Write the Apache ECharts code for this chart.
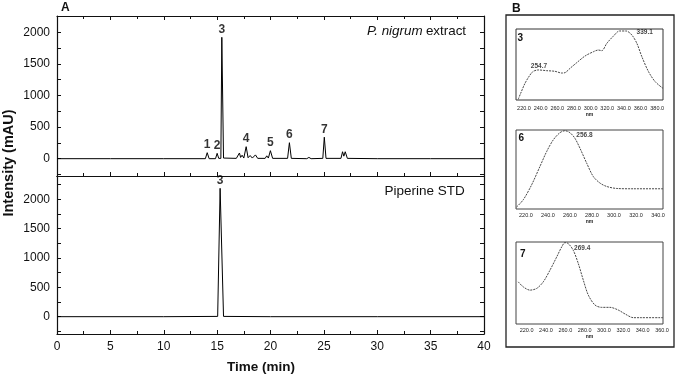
<!DOCTYPE html>
<html>
<head>
<meta charset="utf-8">
<script src="https://cdn.jsdelivr.net/npm/echarts@6/dist/echarts.min.js"></script>
<style>html,body{margin:0;padding:0;background:#fff}#c{width:676px;height:376px}</style>
</head>
<body>
<div id="c"></div>
<script>
// ---- Chromatogram data (time in min, intensity in mAU) ----
const extractTime = [0, 5, 10, 13.9, 14.07, 14.25, 14.85, 15.0, 15.15, 15.35, 15.44, 15.6, 16.8, 17.09, 17.2, 17.34, 17.5, 17.72, 17.9, 18.09, 18.3, 18.59, 18.8, 19.5, 19.65, 19.8, 19.99, 20.2, 21.6, 21.77, 21.95, 23.4, 23.6, 23.8, 24.9, 25.04, 25.2, 26.6, 26.75, 26.87, 27.0, 27.2, 30, 35, 40];
const extractIntensity = [0, 0, 0, 0, 95, 0, 0, 85, 5, 5, 1921, 10, 5, 90, 20, 55, 10, 190, 15, 50, 10, 60, 5, 5, 45, 10, 127, 5, 5, 253, 5, 0, 20, 0, 5, 340, 5, 5, 110, 40, 110, 5, 0, 0, 0];
const stdTime = [0, 10, 15.05, 15.28, 15.6, 20, 30, 40];
const stdIntensity = [0, 0, 5, 2187, 5, 0, 0, 0];

// peak labels
const peakNames = ['1', '2', '3', '4', '5', '6', '7'];
const peakTimes = [14.07, 15.0, 15.44, 17.72, 19.99, 21.77, 25.04];
const peakHeights = [95, 85, 1921, 190, 127, 253, 340];
const stdPeakNames = ['3'];
const stdPeakTimes = [15.28];
const stdPeakHeights = [2187];

// axis ticks / labels
const timeTickLabels = [0, 5, 10, 15, 20, 25, 30, 35, 40];
const intensityTicks = [-250, 0, 250, 500, 750, 1000, 1250, 1500, 1750, 2000, 2250];
const intensityLabels = [0, 500, 1000, 1500, 2000];

// ---- UV spectra (nm, relative absorbance) ----
const spec3Nm = [213.1, 216, 221.2, 227.2, 231.2, 237.2, 247.3, 257.3, 265.3, 269.3, 275.3, 283.4, 293.4, 303.4, 309.4, 313.5, 319.5, 327.5, 334.7, 342.7, 349.6, 355.6, 361.6, 369.6, 377.6, 386.9];
const spec3Abs = [1, 9.4, 23.5, 35.2, 40.4, 42.3, 41.3, 40.4, 38, 38.5, 44.6, 52.6, 62, 68, 70.4, 69.5, 79.8, 90.1, 97.2, 97.2, 91.5, 79.8, 61, 39.9, 25.8, 16.5];
const spec3Ticks = [220, 240, 260, 280, 300, 320, 340, 360, 380];
const spec3PeakNames = ['254.7', '339.1'];
const spec3PeakAt = [[238, 47], [365, 95]];

const spec6Nm = [211.5, 217.6, 225.2, 232.7, 238.8, 244.8, 250.9, 255.5, 260, 264.5, 269.1, 275.2, 281.2, 287.3, 293.4, 302.5, 317.6, 344.5];
const spec6Abs = [2.5, 11.7, 30.6, 53.7, 72.6, 87.4, 96.6, 99.1, 96.6, 89.5, 76.9, 58, 41.1, 32.8, 28.5, 26, 25.6, 25.6];
const spec6Ticks = [220, 240, 260, 280, 300, 320, 340];
const spec6PeakNames = ['256.8'];
const spec6PeakAt = [[273.2, 93]];

const spec7Nm = [211.3, 216.5, 223.4, 230.4, 237.2, 244.1, 251.1, 256.2, 259.6, 263.1, 268.2, 273.4, 278.6, 283.8, 290.7, 297.6, 306.2, 314.8, 321.8, 330.4, 337.3, 361];
const spec7Abs = [51.4, 45.3, 41.3, 43.4, 51.4, 65.6, 81.8, 93.9, 99.2, 98, 89.9, 73.8, 53.5, 35.2, 23.1, 20.3, 20.3, 17, 12.2, 7.7, 7.7, 7.7];
const spec7Ticks = [220, 240, 260, 280, 300, 320, 340, 360];
const spec7PeakNames = ['269.4'];
const spec7PeakAt = [[277.5, 93]];

const zip = (a, b) => a.map((v, i) => [v, b[i]]);
const FONT = 'Liberation Sans, Arial, sans-serif';
const INK = '#111';

function chromX(gridIndex, pos, showLabels, showTicks) {
  return {
    type: 'value', gridIndex, position: pos, min: 0, max: 40, interval: 5,
    axisLine: { show: true, onZero: false, lineStyle: { color: INK, width: 1.2 } },
    axisTick: { show: showTicks, inside: true, length: 4, lineStyle: { color: INK } },
    minorTick: { show: showTicks, splitNumber: 2, length: 3, lineStyle: { color: INK } },
    axisLabel: { show: showLabels, color: INK, fontSize: 12, margin: 7, fontFamily: FONT, customValues: timeTickLabels,
      formatter: v => String(v) },
    splitLine: { show: false }
  };
}
function chromY(gridIndex, pos, min, max, showLabels) {
  return {
    type: 'value', gridIndex, position: pos, min, max,
    axisLine: { show: true, onZero: false, lineStyle: { color: INK, width: 1.2 } },
    axisTick: { show: true, inside: true, length: 4, lineStyle: { color: INK }, customValues: intensityTicks },
    axisLabel: { show: showLabels, color: INK, fontSize: 12, margin: 7, fontFamily: FONT, customValues: intensityLabels,
      formatter: v => String(v) },
    splitLine: { show: false }
  };
}
function specX(gridIndex, min, max, ticks, margin) {
  return {
    type: 'value', gridIndex, min, max,
    name: 'nm', nameLocation: 'middle', nameGap: margin + 7.5,
    nameTextStyle: { fontSize: 5, color: '#222', fontFamily: FONT, fontWeight: 'bold' },
    axisLine: { show: false }, axisTick: { show: false }, splitLine: { show: false },
    axisLabel: { show: true, fontSize: 5.5, color: '#222', margin, fontFamily: FONT, customValues: ticks,
      formatter: v => Number(v).toFixed(1) }
  };
}
function specY(gridIndex) {
  return { type: 'value', gridIndex, min: 0, max: 100, show: false, splitLine: { show: false } };
}
function peakLabels(xi, yi, names, xs, ys) {
  return {
    type: 'scatter', xAxisIndex: xi, yAxisIndex: yi, symbolSize: 0, silent: true,
    data: names.map((n, i) => ({ name: n, value: [xs[i], ys[i]] })),
    label: { show: true, position: 'top', distance: 2, formatter: '{b}', fontSize: 12, fontWeight: 'bold', color: '#000', fontFamily: FONT }
  };
}
function specLabels(xi, yi, names, at) {
  return {
    type: 'scatter', xAxisIndex: xi, yAxisIndex: yi, symbolSize: 0, silent: true,
    data: names.map((n, i) => ({ name: n, value: at[i] })),
    label: { show: true, position: 'inside', formatter: '{b}', fontSize: 6.5, fontWeight: 'bold', color: '#111', fontFamily: FONT }
  };
}
function specLine(xi, yi, nm, ab) {
  return {
    type: 'line', xAxisIndex: xi, yAxisIndex: yi, data: zip(nm, ab), showSymbol: false, smooth: 0.3,
    lineStyle: { color: '#333', width: 0.9, type: [2, 1] }
  };
}

const option = {
  animation: false,
  textStyle: { fontFamily: FONT },
  grid: [
    { left: 57, top: 16, width: 427, height: 160 },
    { left: 57, top: 176, width: 427, height: 158 },
    { left: 516, top: 29, width: 147, height: 71, show: true, borderColor: '#333', borderWidth: 1 },
    { left: 516, top: 130, width: 147, height: 79, show: true, borderColor: '#444', borderWidth: 1 },
    { left: 516, top: 242, width: 147, height: 82, show: true, borderColor: '#444', borderWidth: 1 }
  ],
  xAxis: [
    chromX(0, 'bottom', false, true),
    chromX(0, 'top', false, true),
    chromX(1, 'bottom', true, true),
    chromX(1, 'top', false, false),
    specX(2, 210.4, 387, spec3Ticks, 5),
    specX(3, 211, 344.5, spec6Ticks, 3),
    specX(4, 209, 361, spec7Ticks, 3)
  ],
  yAxis: [
    chromY(0, 'left', -274, 2258, true),
    chromY(0, 'right', -274, 2258, false),
    chromY(1, 'left', -295, 2397, true),
    chromY(1, 'right', -295, 2397, false),
    specY(2), specY(3), specY(4)
  ],
  series: [
    { type: 'line', xAxisIndex: 0, yAxisIndex: 0, data: zip(extractTime, extractIntensity), showSymbol: false,
      lineStyle: { color: '#000', width: 1 } },
    { type: 'line', xAxisIndex: 2, yAxisIndex: 2, data: zip(stdTime, stdIntensity), showSymbol: false,
      lineStyle: { color: '#000', width: 1 } },
    peakLabels(0, 0, peakNames, peakTimes, peakHeights),
    peakLabels(2, 2, stdPeakNames, stdPeakTimes, stdPeakHeights),
    specLine(4, 4, spec3Nm, spec3Abs),
    specLine(5, 5, spec6Nm, spec6Abs),
    specLine(6, 6, spec7Nm, spec7Abs),
    specLabels(4, 4, spec3PeakNames, spec3PeakAt),
    specLabels(5, 5, spec6PeakNames, spec6PeakAt),
    specLabels(6, 6, spec7PeakNames, spec7PeakAt)
  ],
  graphic: [
    { type: 'text', left: 61, top: 2, style: { text: 'A', font: 'bold 12px ' + FONT, fill: INK } },
    { type: 'text', left: 512, top: 3, style: { text: 'B', font: 'bold 12px ' + FONT, fill: INK } },
    { type: 'rect', shape: { x: 506, y: 15, width: 168, height: 332 }, style: { fill: 'none', stroke: '#222', lineWidth: 1.3 } },
    { type: 'text', x: 367, y: 31, style: {
        text: '{i|P. nigrum} {n|extract}', verticalAlign: 'middle', fill: INK,
        rich: { i: { fontStyle: 'italic', fontSize: 13.4, fontFamily: FONT, fill: INK }, n: { fontSize: 13.4, fontFamily: FONT, fill: INK } } } },
    { type: 'text', x: 384.5, y: 191, style: { text: 'Piperine STD', font: '13.5px ' + FONT, fill: INK, verticalAlign: 'middle' } },
    { type: 'text', x: 9, y: 163, rotation: Math.PI / 2, style: { text: 'Intensity (mAU)', font: 'bold 14.5px ' + FONT, fill: INK, align: 'center', verticalAlign: 'middle' } },
    { type: 'text', x: 261, y: 367, style: { text: 'Time (min)', font: 'bold 13.5px ' + FONT, fill: INK, align: 'center', verticalAlign: 'middle' } },
    { type: 'text', x: 517.5, y: 38.5, style: { text: '3', font: 'bold 10px ' + FONT, fill: INK, verticalAlign: 'middle' } },
    { type: 'text', x: 518.5, y: 138.5, style: { text: '6', font: 'bold 10px ' + FONT, fill: INK, verticalAlign: 'middle' } },
    { type: 'text', x: 520, y: 254, style: { text: '7', font: 'bold 10px ' + FONT, fill: INK, verticalAlign: 'middle' } }
  ]
};
const chart = echarts.init(document.getElementById('c'), null, { renderer: 'canvas' });
chart.setOption(option);
</script>
</body>
</html>
